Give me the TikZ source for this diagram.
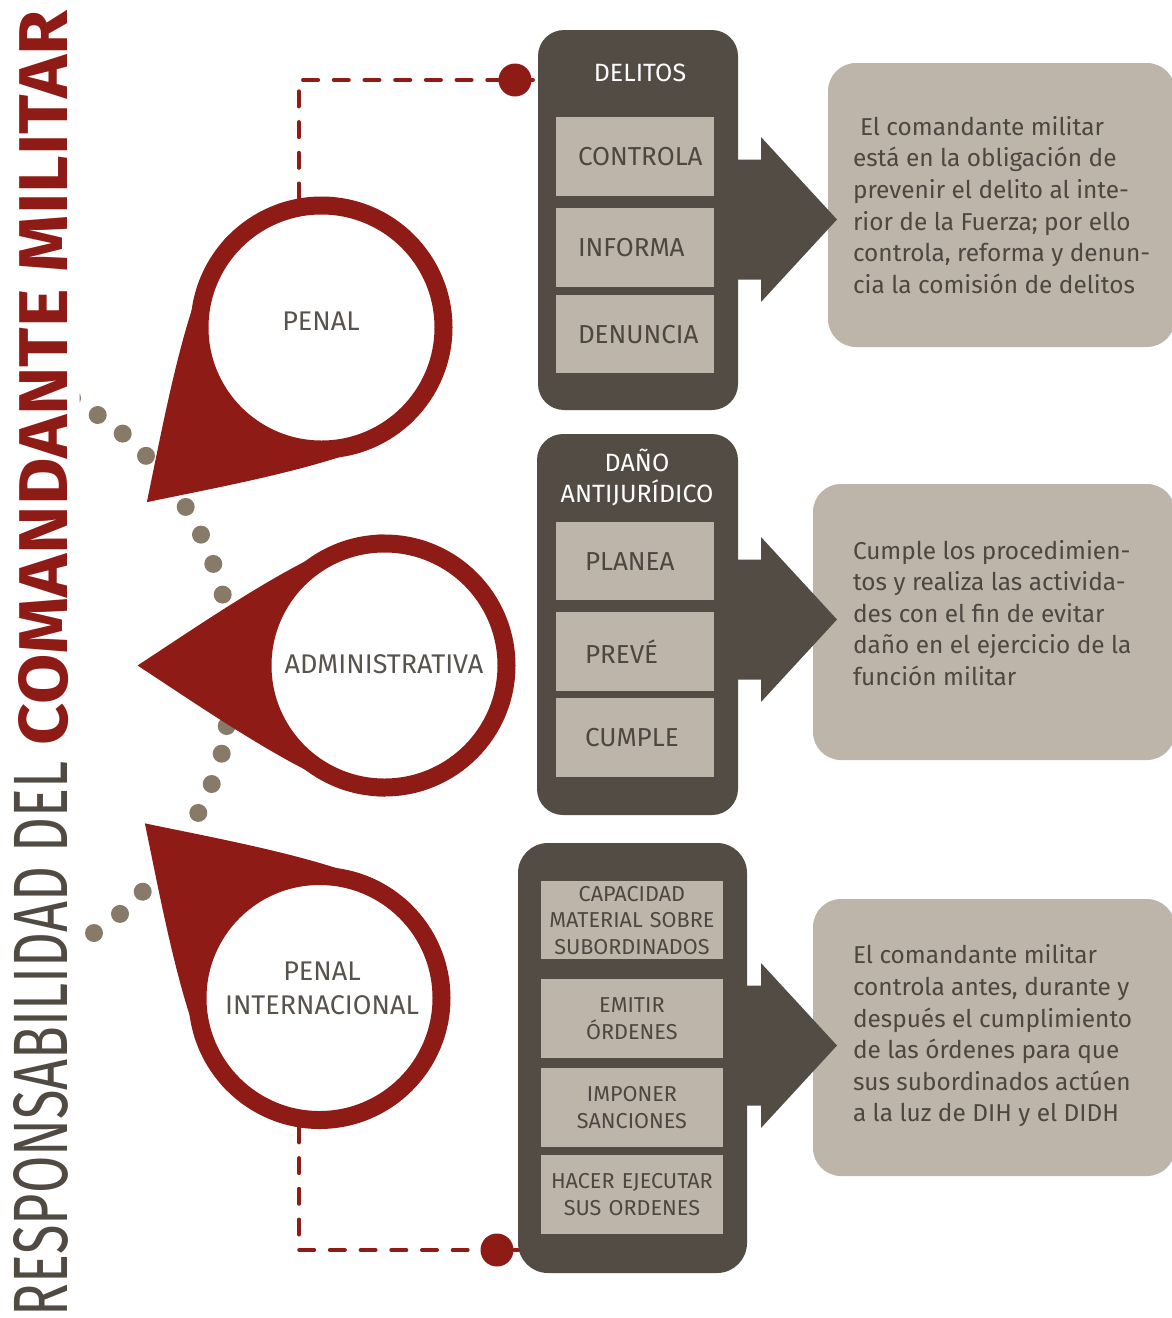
\documentclass[tikz,border=0pt]{standalone}
\usepackage{fontspec}
\usepackage{graphicx}
\setmainfont{Fira Sans}
\usetikzlibrary{positioning}

\definecolor{pinred}{RGB}{142,27,22}
\definecolor{boxdark}{RGB}{82,76,69}
\definecolor{boxlight}{RGB}{189,181,170}
\definecolor{inktext}{RGB}{78,71,64}
\definecolor{ringtext}{RGB}{88,83,77}
\definecolor{titlegray}{RGB}{80,74,67}
\definecolor{dotgray}{RGB}{135,122,104}

\begin{document}
\begin{tikzpicture}[x=1pt, y=-1pt, outer sep=0pt]
  \tikzstyle{darkbox}=[fill=boxdark, rounded corners=26pt, inner sep=0pt]
  \tikzstyle{boxhead}=[text=white, align=center, inner sep=0pt, font=\fontsize{25}{31.6}\selectfont]
  \tikzstyle{actbox}=[fill=boxlight, text=inktext, minimum height=78.4pt, align=left, font=\fontsize{26}{30}\selectfont]
  \tikzstyle{actboxA}=[actbox, text width=114pt, inner xsep=22pt]
  \tikzstyle{actboxB}=[actbox, text width=100pt, inner xsep=29pt]
  \tikzstyle{actboxC}=[actbox, text width=169.7pt, inner xsep=6pt, align=center, font=\fontsize{21.6}{26.5}\selectfont]
  \tikzstyle{panel}=[fill=boxlight, rounded corners=28pt, inner sep=0pt]
  \tikzstyle{paneltext}=[text=inktext, align=left, inner sep=0pt, anchor=west, font=\fontsize{24.4}{31.6}\selectfont]
  \tikzstyle{ring}=[circle, draw=pinred, line width=18pt, fill=white, minimum size=244pt, inner sep=0pt, outer sep=9pt]
  \tikzstyle{ringlabel}=[text=ringtext, align=center, inner sep=0pt, font=\fontsize{27}{34}\selectfont]
  \tikzstyle{reddot}=[circle, fill=pinred, minimum size=33pt, inner sep=0pt]
  \tikzstyle{redlink}=[draw=pinred, line width=4pt, line cap=round, dash pattern=on 15pt off 15.7pt]

  \useasboundingbox (0,0) rectangle (1172,1318);

  \node[rotate=90, anchor=south west, inner sep=0pt, text=titlegray] (titlelight) at (68,1316) {\resizebox{554pt}{54pt}{RESPONSABILIDAD DEL}};
  \node[rotate=90, anchor=south west, inner sep=0pt, text=pinred] (titlebold) at (69,745) {\resizebox{734pt}{49pt}{\bfseries COMANDANTE MILITAR}};

  \begin{scope}
    \clip (79.5,380) rectangle (90,420);
    \fill[dotgray] (72,398) circle[radius=9];
  \end{scope}
  \foreach \dx/\dy in {97.7/415, 122.7/433.6, 146/455.8, 185.7/506.9, 201/534.6, 213.3/563.9, 222.7/594.6, 226.7/726, 221.7/753.7, 211.7/784, 198.3/812.9, 142.7/891.7, 120/913.9, 94/933}
    \fill[dotgray] (\dx,\dy) circle[radius=9];

  \coordinate (penalc) at (321.5,327.5);
  \coordinate (adminc) at (384.5,665.5);
  \coordinate (intc) at (319.5,998);
  \foreach \pc/\pa in {penalc/225, adminc/180, intc/135}
    \fill[pinred, shift={(\pc)}, rotate=\pa] (0,-131) .. controls (55,-131) and (172,-49) .. (247,0) .. controls (172,49) and (55,131) .. (0,131) -- cycle;

  \node[ring] (penal) at (penalc) {};
  \node[ring] (admin) at (adminc) {};
  \node[ring] (penalint) at (intc) {};
  \node[ringlabel] (penaltxt) at (321,321) {PENAL};
  \node[ringlabel] (admintxt) at (384,664) {ADMINISTRATIVA};
  \node[ringlabel] (penalinttxt) at (322,988) {PENAL\\INTERNACIONAL};

  \node[darkbox, minimum width=200pt, minimum height=380pt] (delitos) at (638,220) {};
  \node[darkbox, minimum width=201pt, minimum height=381pt] (dano) at (637.5,624.5) {};
  \node[darkbox, minimum width=229pt, minimum height=430pt, rounded corners=30pt] (ordenes) at (632.5,1058) {};

  \node[boxhead] (delitoshead) at (640,73) {DELITOS};
  \node[boxhead] (danohead) at (637,477.5) {DAÑO\\ANTIJURÍDICO};

  \node[actboxA] (controla) at (635,156.5) {CONTROLA};
  \node[actboxA, below=12.6pt of controla] (informa) {INFORMA};
  \node[actboxA, below=8.3pt of informa] (denuncia) {DENUNCIA};

  \node[actboxB] (planea) at (635,561.2) {PLANEA};
  \node[actboxB, below=12pt of planea] (preve) {PREVÉ};
  \node[actboxB, below=7.6pt of preve] (cumple) {CUMPLE};

  \node[actboxC] (capacidad) at (631.9,920.2) {CAPACIDAD\\MATERIAL SOBRE\\SUBORDINADOS};
  \node[actboxC, below=20pt of capacidad] (emitir) {EMITIR\\ÓRDENES};
  \node[actboxC, below=10.6pt of emitir] (imponer) {IMPONER\\SANCIONES};
  \node[actboxC, below=8.3pt of imponer] (hacer) {HACER EJECUTAR\\SUS ORDENES};

  \node[panel, minimum width=347pt, minimum height=284pt] (panelA) at (1001.5,205) {};
  \node[panel, minimum width=362pt, minimum height=276pt] (panelB) at (994,622) {};
  \node[panel, minimum width=362pt, minimum height=277pt] (panelC) at (994,1037.5) {};

  \foreach \ya in {219.5, 619.5, 1045.5}
    \fill[boxdark] (730,\ya-60) -- (761,\ya-60) -- (761,\ya-82.5) -- (837,\ya) -- (761,\ya+82.5) -- (761,\ya+60) -- (730,\ya+60) -- cycle;

  \node[paneltext] (textA) at (853,205) {\hspace*{7pt}El comandante militar\\está en la obligación de\\prevenir el delito al inte-\\rior de la Fuerza; por ello\\controla, reforma y denun-\\cia la comisión de delitos};
  \node[paneltext] (textB) at (853,613) {Cumple los procedimien-\\tos y realiza las activida-\\des con el fin de evitar\\daño en el ejercicio de la\\función militar};
  \node[paneltext] (textC) at (853,1036) {El comandante militar\\controla antes, durante y\\después el cumplimiento\\de las órdenes para que\\sus subordinados actúen\\a la luz de DIH y el DIDH};

  \node[reddot] (dotA) at (515,80) {};
  \node[reddot] (dotB) at (497,1250) {};
  \draw[redlink] (penal.100) |- (dotA.center) -- (delitos.west |- dotA);
  \draw[redlink] (penalint.261) |- (dotB.center) -- (ordenes.west |- dotB);
\end{tikzpicture}
\end{document}
